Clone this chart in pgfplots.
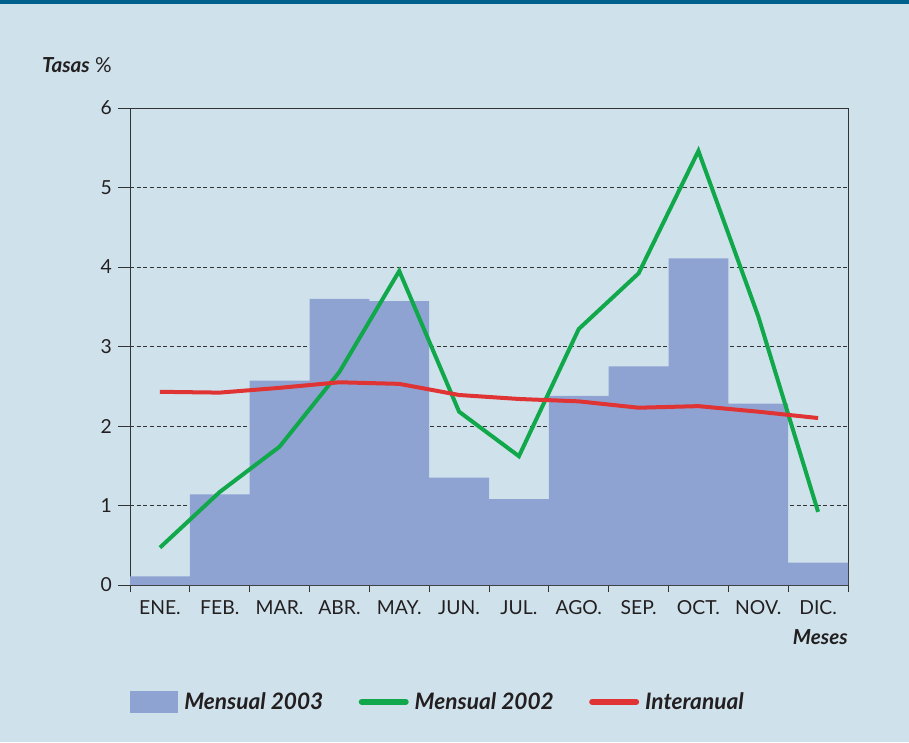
\documentclass[border=0pt]{standalone}
\usepackage{fontspec}
\setmainfont{Lato}
\usepackage{pgfplots}
\pgfplotsset{compat=1.18}
\definecolor{bg}{HTML}{CFE2EB}
\definecolor{topbar}{HTML}{00628C}
\definecolor{barfill}{HTML}{8FA3D3}
\definecolor{verde}{HTML}{10A84A}
\definecolor{rojo}{HTML}{E03333}
\definecolor{txt}{HTML}{231F20}
\begin{document}
\begin{tikzpicture}
% background and top band (909x742 px at 0.75pt/px)
\fill[bg] (0,0) rectangle (681.75pt,556.5pt);
\fill[topbar] (0,553.5pt) rectangle (681.75pt,556.5pt);
\path[use as bounding box] (0,0) rectangle (681.75pt,556.5pt);
\begin{axis}[
    at={(97.5pt,117.75pt)}, anchor=south west,
    scale only axis, width=538.5pt, height=357.75pt,
    xmin=-0.5, xmax=11.5, ymin=0, ymax=6,
    xtick={0,...,11},
    xticklabels={ENE.,FEB.,MAR.,ABR.,MAY.,JUN.,JUL.,AGO.,SEP.,OCT.,NOV.,DIC.},
    minor xtick={-0.5,0.5,...,11.5},
    ytick={0,...,6},
    tick align=outside,
    xtick pos=bottom, ytick pos=left,
    major x tick style={draw=none},
    major tick length=9pt,
    minor tick length=5pt,
    every tick/.style={black!80, line width=0.6pt},
    xticklabel style={yshift=1pt},
    yticklabel style={xshift=-1pt},
    ymajorgrids,
    grid style={densely dashed, black!80, line width=0.5pt},
    axis line style={black!80, line width=0.7pt},
    tick label style={font=\fontsize{14.5}{17}\selectfont, text=txt},
    /pgf/number format/assume math mode=true,
    xlabel={\textbf{\textit{Meses}}},
    xlabel style={at={(axis description cs:1,-0.109)}, anchor=east, inner sep=0pt, font=\fontsize{15.5}{18}\selectfont, text=txt},
    ylabel={\textbf{\textit{Tasas}} \%},
    ylabel style={at={(axis description cs:-0.1226,1.09)}, anchor=west, rotate=-90, inner sep=0pt, font=\fontsize{15.5}{18}\selectfont, text=txt},
    legend columns=3,
    legend style={at={(axis description cs:0,-0.245)}, anchor=west, draw=none, fill=none,
        inner sep=0pt, font=\fontsize{17}{19}\selectfont\bfseries\itshape, text=txt,
        /tikz/every even column/.append style={column sep=22pt},
        nodes={inner xsep=4.5pt}},
]
\addplot[ybar, bar width=1, bar shift=0, fill=barfill, draw=none,
    legend image code/.code={\fill[barfill] (0pt,-8.5pt) rectangle (36pt,8.5pt);}]
coordinates {
    (0,0.11) (1,1.14) (2,2.57) (3,3.60) (4,3.57) (5,1.35)
    (6,1.08) (7,2.38) (8,2.75) (9,4.11) (10,2.28) (11,0.28)
};
\addlegendentry{Mensual 2003}
\addplot[verde, line width=3pt, no marks,
    legend image code/.code={\draw[verde, line width=4.5pt, line cap=round] (3pt,0pt) -- (36pt,0pt);}]
coordinates {
    (0,0.47) (1,1.17) (2,1.74) (3,2.68) (4,3.95) (5,2.18)
    (6,1.62) (7,3.22) (8,3.92) (9,5.46) (10,3.38) (11,0.92)
};
\addlegendentry{Mensual 2002}
\addplot[rojo, line width=3pt, no marks,
    legend image code/.code={\draw[rojo, line width=4.5pt, line cap=round] (3pt,0pt) -- (36pt,0pt);}]
coordinates {
    (0,2.43) (1,2.42) (2,2.48) (3,2.55) (4,2.53) (5,2.39)
    (6,2.34) (7,2.31) (8,2.23) (9,2.25) (10,2.18) (11,2.10)
};
\addlegendentry{Interanual}
\end{axis}
\end{tikzpicture}
\end{document}
